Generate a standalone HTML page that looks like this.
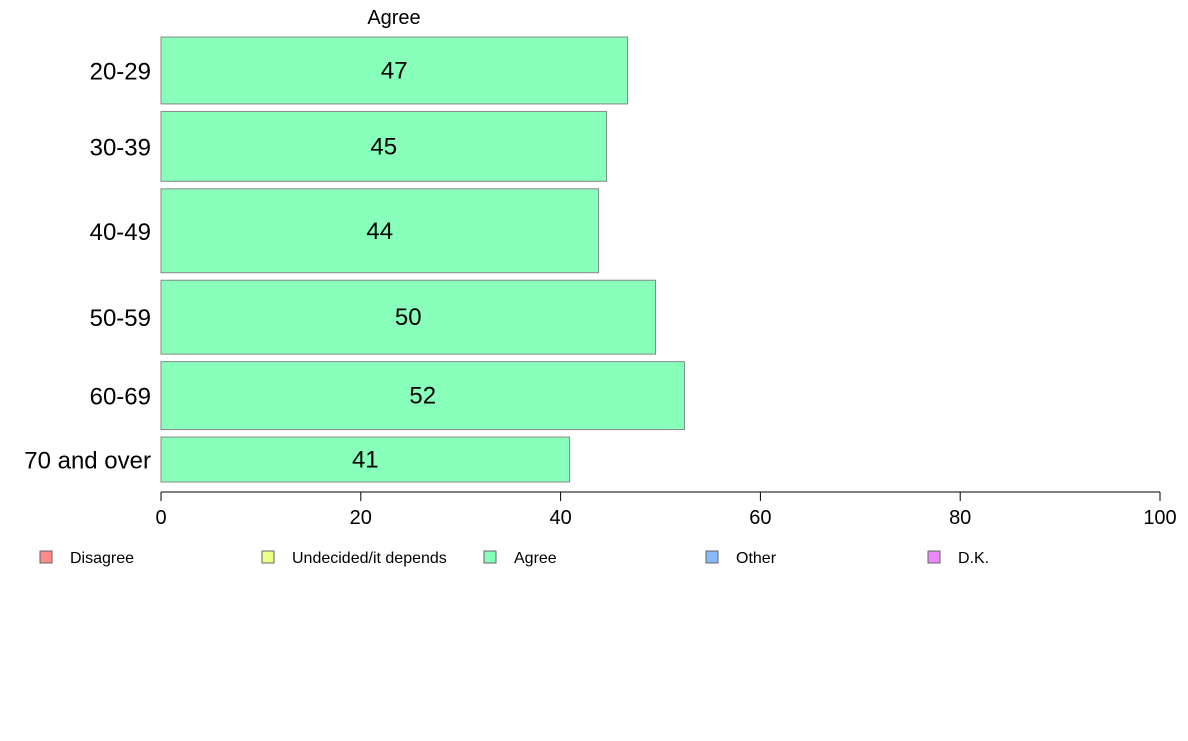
<!DOCTYPE html>
<html><head><meta charset="utf-8"><style>
body{margin:0;background:#fff;font-family:"Liberation Sans",Arial,sans-serif}
svg text{font-family:"Liberation Sans",Arial,sans-serif}
</style></head><body>
<svg id="c" width="1188" height="736"></svg>
<script>
const categories=["20-29","30-39","40-49","50-59","60-69","70 and over"];
const values=[46.7,44.6,43.8,49.5,52.4,40.9];
const labels=["47","45","44","50","52","41"];
const groupSizes=[67,70,84,74,68,45];
const ticks=[0,20,40,60,80,100];
const legendNames=["Disagree","Undecided/it depends","Agree","Other","D.K."];
const legendColors=["#ff8a8a","#eeff88","#88ffbb","#88bbff","#ee88ff"];
const NS="http://www.w3.org/2000/svg";
const svg=document.getElementById('c');
function el(t,a,txt){const e=document.createElementNS(NS,t);for(const k in a)e.setAttribute(k,a[k]);if(txt!==undefined)e.textContent=txt;svg.appendChild(e);return e;}
const x0=161,x1=1160,yTop=37,yBot=482,gap=7.5;
const xs=v=>x0+(v/100)*(x1-x0);
const total=groupSizes.reduce((a,b)=>a+b,0);
const hUnit=(yBot-yTop-gap*(categories.length-1))/total;
let t=el('text',{x:394,y:24,'font-size':20,'text-anchor':'middle'},'Agree');

let y=yTop;
categories.forEach((c,i)=>{
  const h=groupSizes[i]*hUnit;
  const r=el('rect',{x:x0,y:y,width:xs(values[i])-x0,height:h,fill:'#88ffbb',stroke:'#888','stroke-width':1});
  
  
  const lv=el('text',{x:xs(values[i]/2),y:y+h/2+8,'font-size':24,'text-anchor':'middle'},labels[i]);
  
  
  const lc=el('text',{x:151,y:y+h/2+9,'font-size':24,'text-anchor':'end'},c);
  
  
  y+=h+gap;
});
const ax=el('line',{x1:x0,x2:x1,y1:492,y2:492,stroke:'#000','stroke-width':1});

ticks.forEach(v=>{
  const tk=el('line',{x1:xs(v),x2:xs(v),y1:492,y2:501,stroke:'#000','stroke-width':1});
  
  const tl=el('text',{x:xs(v),y:524,'font-size':20,'text-anchor':'middle'},String(v));
  
});
legendNames.forEach((n,i)=>{
  const lx=40+i*222;
  const sq=el('rect',{x:lx,y:551,width:12,height:12,fill:legendColors[i],stroke:'#666','stroke-width':1});
  
  const lt=el('text',{x:lx+30,y:563,'font-size':16},n);
  
});
</script>
</body></html>
